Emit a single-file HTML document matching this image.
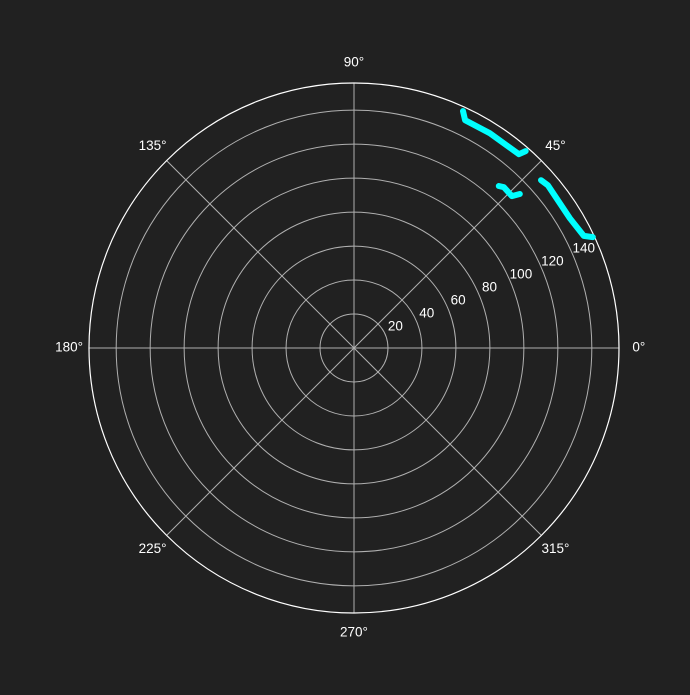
<!DOCTYPE html>
<html><head><meta charset="utf-8"><style>
html,body{margin:0;padding:0;background:#212121;}
svg text{font-family:"Liberation Sans","DejaVu Sans",sans-serif;font-size:13.5px;fill:#fff;}
</style></head><body>
<svg id="chart" width="690" height="690" viewBox="0 0 690 690">
<rect width="690" height="690" fill="#212121"/>
<g id="grid"></g>
<g id="series"></g>
<g id="labels"></g>
</svg>
<script>
const ringTicks = [20, 40, 60, 80, 100, 120, 140];
const angleTicks = [0, 45, 90, 135, 180, 225, 270, 315];
const angleLabels = ["0°", "45°", "90°", "135°", "180°", "225°", "270°", "315°"];
const segAtheta = [65.3, 64.0, 57.7, 49.6, 48.9];
const segAr = [153.5, 149.2, 149.6, 149.8, 153.8];
const segBtheta = [48.2, 47.0, 43.9, 42.9];
const segBr = [127.9, 129.4, 129.0, 133.2];
const segCtheta = [41.9, 40.0, 31.0, 26.0, 24.9];
const segCr = [147.9, 149.0, 148.3, 150.5, 155.0];
const rMax = 156;

const NS = "http://www.w3.org/2000/svg";
const cx = 354, cy = 348, R = 265;
function rs(r){ return r / rMax * R; }
function px(t, r){ return cx + rs(r) * Math.cos(t * Math.PI / 180); }
function py(t, r){ return cy - rs(r) * Math.sin(t * Math.PI / 180); }
function mk(tag, attrs, parent){
  const e = document.createElementNS(NS, tag);
  for (const k in attrs) e.setAttribute(k, attrs[k]);
  parent.appendChild(e);
  return e;
}
const grid = document.getElementById('grid');
const labels = document.getElementById('labels');
const series = document.getElementById('series');
ringTicks.forEach(v => {
  const c = mk('circle', {cx: cx, cy: cy, r: rs(v), fill: 'none', stroke: '#b0b0b0', 'stroke-width': 1}, grid);
  
  
  const t = mk('text', {x: px(22.5, v) + 10, y: py(22.5, v) - 8, 'text-anchor': 'middle', 'dominant-baseline': 'middle'}, labels);
  t.textContent = v;
  
  
});
angleTicks.forEach((a, i) => {
  const l = mk('line', {x1: cx, y1: cy, x2: px(a, rMax), y2: py(a, rMax), stroke: '#b0b0b0', 'stroke-width': 1}, grid);
  
  
  const lr = rMax * 1.075;
  const t = mk('text', {x: px(a, lr), y: py(a, lr), 'text-anchor': 'middle', 'dominant-baseline': 'middle'}, labels);
  t.textContent = angleLabels[i];
  
  
});
const outer = mk('circle', {cx: cx, cy: cy, r: R, fill: 'none', stroke: '#fff', 'stroke-width': 1.2}, grid);


[[segAtheta, segAr, 'a'], [segBtheta, segBr, 'b'], [segCtheta, segCr, 'c']].forEach(s => {
  const pts = s[0].map((t, i) => px(t, s[1][i]).toFixed(1) + ',' + py(t, s[1][i]).toFixed(1)).join(' ');
  const p = mk('polyline', {points: pts, fill: 'none', stroke: '#00ffff', 'stroke-width': 6, 'stroke-linejoin': 'round', 'stroke-linecap': 'round'}, series);
  
  
});
</script>
</body></html>
